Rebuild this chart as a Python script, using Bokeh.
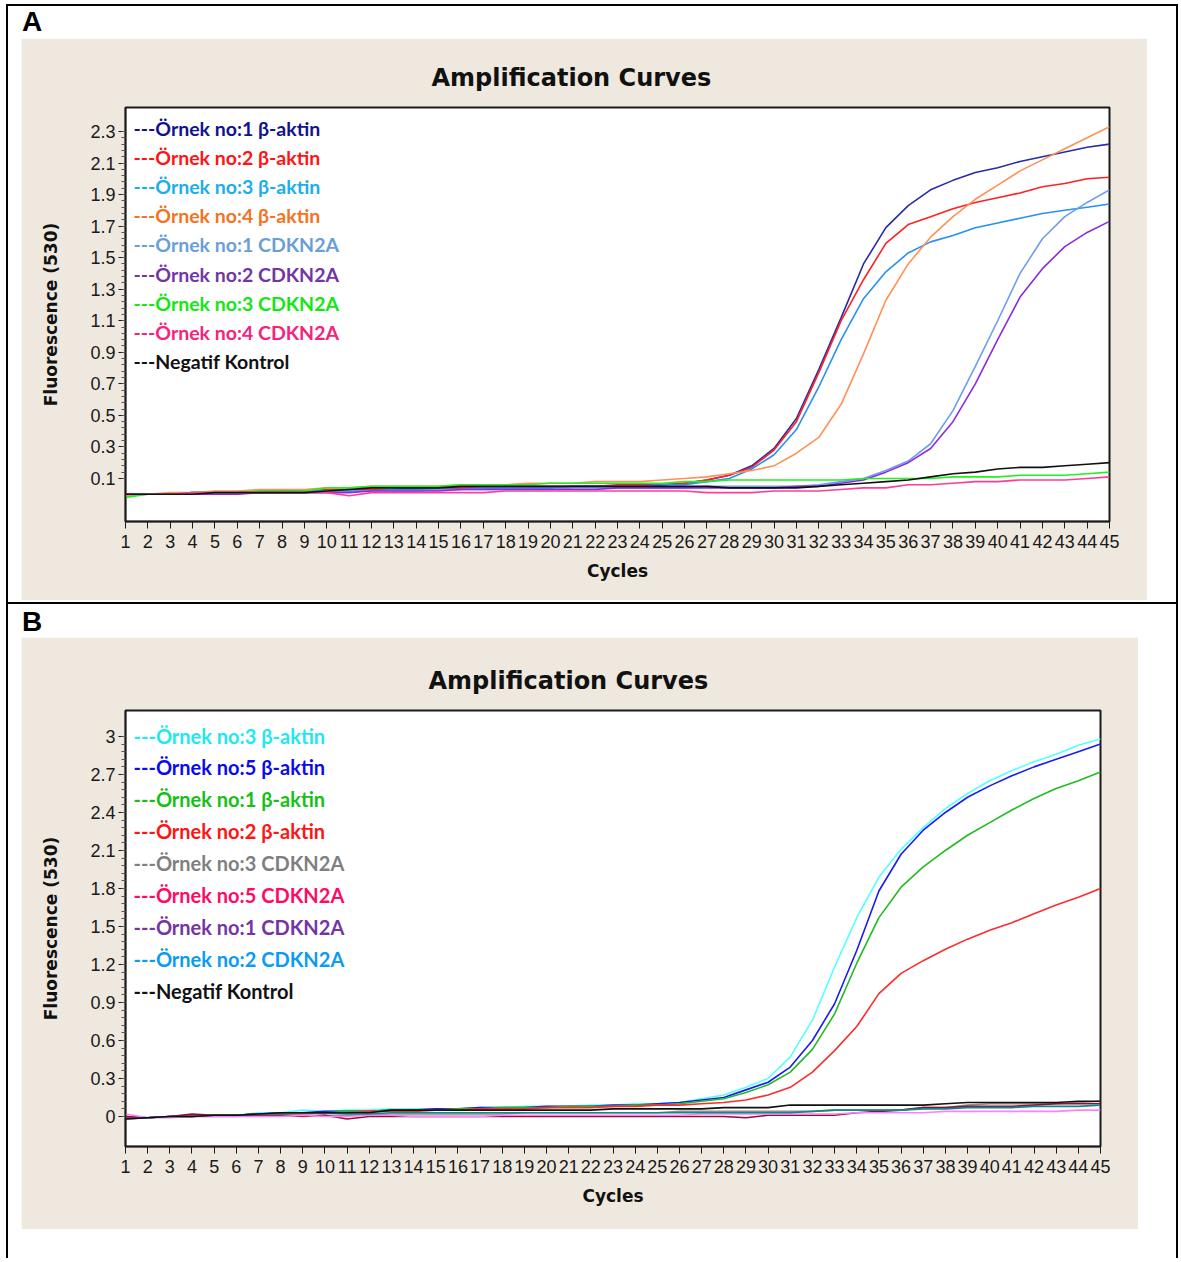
from bokeh.plotting import figure
from bokeh.models import Range1d, FixedTicker, Label, Spacer, Div
from bokeh.layouts import column, row
from bokeh.embed import file_html
from bokeh.resources import INLINE

# ------------------------------------------------------------------ data
cycles = list(range(1, 46))

# ---- Panel A
a_labels = ["---Örnek no:1 β-aktin", "---Örnek no:2 β-aktin", "---Örnek no:3 β-aktin",
            "---Örnek no:4 β-aktin", "---Örnek no:1 CDKN2A", "---Örnek no:2 CDKN2A",
            "---Örnek no:3 CDKN2A", "---Örnek no:4 CDKN2A", "---Negatif Kontrol"]
a_text_colors = ["#12128E", "#FF1414", "#1AAEEB", "#F5731E", "#6A9FD6", "#7335A5",
                 "#12E812", "#F5237B", "#111111"]
a_line_colors = ["#2A2AA6", "#FF2020", "#2590F5", "#FF9058", "#6E9CF0", "#8A2BE2",
                 "#22F022", "#FF3C96", "#111111"]

a_ornek1_baktin = [0.00, 0.00, 0.00, 0.01, 0.01, 0.01, 0.01, 0.02, 0.02, 0.02, 0.02, 0.03, 0.03, 0.03, 0.03,
                   0.04, 0.04, 0.04, 0.04, 0.04, 0.05, 0.05, 0.05, 0.05, 0.06, 0.07, 0.09, 0.12, 0.18, 0.29,
                   0.48, 0.79, 1.12, 1.46, 1.69, 1.83, 1.93, 1.99, 2.04, 2.07, 2.11, 2.14, 2.17, 2.20, 2.22]
a_ornek2_baktin = [0.00, 0.00, 0.00, 0.01, 0.01, 0.01, 0.02, 0.02, 0.02, 0.03, 0.03, 0.03, 0.03, 0.04, 0.04,
                   0.04, 0.04, 0.05, 0.05, 0.05, 0.05, 0.05, 0.06, 0.06, 0.06, 0.07, 0.09, 0.12, 0.17, 0.28,
                   0.46, 0.77, 1.10, 1.36, 1.59, 1.71, 1.76, 1.81, 1.85, 1.88, 1.91, 1.95, 1.97, 2.00, 2.01]
a_ornek3_baktin = [0.00, 0.00, 0.00, 0.00, 0.01, 0.01, 0.01, 0.01, 0.02, 0.02, 0.02, 0.02, 0.03, 0.03, 0.03,
                   0.03, 0.04, 0.04, 0.04, 0.04, 0.05, 0.05, 0.05, 0.05, 0.06, 0.06, 0.08, 0.10, 0.16, 0.25,
                   0.41, 0.68, 0.98, 1.24, 1.41, 1.53, 1.60, 1.64, 1.69, 1.72, 1.75, 1.78, 1.80, 1.82, 1.84]
a_ornek4_baktin = [-0.01, 0.00, 0.01, 0.01, 0.02, 0.02, 0.03, 0.03, 0.03, 0.04, 0.04, 0.05, 0.05, 0.05, 0.05,
                   0.06, 0.06, 0.06, 0.07, 0.07, 0.07, 0.08, 0.08, 0.08, 0.09, 0.10, 0.11, 0.13, 0.15, 0.18,
                   0.26, 0.36, 0.57, 0.89, 1.23, 1.46, 1.63, 1.76, 1.87, 1.96, 2.05, 2.12, 2.19, 2.26, 2.33]
a_ornek1_cdkn2a = [0.00, 0.00, 0.00, 0.00, 0.01, 0.01, 0.01, 0.01, 0.01, 0.02, 0.02, 0.02, 0.02, 0.02, 0.03,
                   0.03, 0.03, 0.03, 0.03, 0.03, 0.04, 0.04, 0.04, 0.04, 0.04, 0.04, 0.05, 0.05, 0.05, 0.05,
                   0.05, 0.06, 0.08, 0.10, 0.15, 0.21, 0.32, 0.53, 0.81, 1.10, 1.40, 1.62, 1.76, 1.85, 1.93]
a_ornek2_cdkn2a = [0.00, 0.00, 0.00, 0.00, 0.00, 0.00, 0.01, 0.01, 0.01, 0.01, 0.01, 0.02, 0.02, 0.02, 0.02,
                   0.03, 0.03, 0.03, 0.03, 0.03, 0.03, 0.03, 0.04, 0.04, 0.04, 0.04, 0.04, 0.04, 0.04, 0.04,
                   0.05, 0.05, 0.07, 0.09, 0.14, 0.20, 0.29, 0.46, 0.70, 0.98, 1.25, 1.43, 1.57, 1.66, 1.73]
a_ornek3_cdkn2a = [-0.02, 0.00, 0.00, 0.01, 0.01, 0.01, 0.02, 0.02, 0.02, 0.04, 0.04, 0.05, 0.05, 0.05, 0.05,
                   0.06, 0.06, 0.06, 0.06, 0.07, 0.07, 0.07, 0.07, 0.07, 0.07, 0.08, 0.08, 0.09, 0.09, 0.09,
                   0.09, 0.09, 0.09, 0.10, 0.10, 0.10, 0.10, 0.11, 0.11, 0.11, 0.12, 0.12, 0.12, 0.13, 0.14]
a_ornek4_cdkn2a = [0.00, 0.00, 0.00, 0.01, 0.01, 0.01, 0.01, 0.01, 0.01, 0.01, -0.01, 0.01, 0.01, 0.01, 0.01,
                   0.01, 0.01, 0.02, 0.02, 0.02, 0.02, 0.02, 0.02, 0.02, 0.02, 0.02, 0.01, 0.01, 0.01, 0.02,
                   0.02, 0.02, 0.03, 0.04, 0.04, 0.06, 0.06, 0.07, 0.08, 0.08, 0.09, 0.09, 0.09, 0.10, 0.11]
a_negatif = [0.00, 0.00, 0.00, 0.00, 0.01, 0.01, 0.01, 0.01, 0.01, 0.02, 0.03, 0.04, 0.04, 0.04, 0.04,
             0.05, 0.05, 0.05, 0.05, 0.05, 0.05, 0.05, 0.05, 0.05, 0.05, 0.05, 0.05, 0.04, 0.04, 0.04,
             0.04, 0.05, 0.06, 0.07, 0.08, 0.09, 0.11, 0.13, 0.14, 0.16, 0.17, 0.17, 0.18, 0.19, 0.20]
a_series = [a_ornek1_baktin, a_ornek2_baktin, a_ornek3_baktin, a_ornek4_baktin, a_ornek1_cdkn2a,
            a_ornek2_cdkn2a, a_ornek3_cdkn2a, a_ornek4_cdkn2a, a_negatif]
a_y_ticks = [0.1, 0.3, 0.5, 0.7, 0.9, 1.1, 1.3, 1.5, 1.7, 1.9, 2.1, 2.3]
a_y_tick_labels = ["0.1", "0.3", "0.5", "0.7", "0.9", "1.1", "1.3", "1.5", "1.7", "1.9", "2.1", "2.3"]

# ---- Panel B
b_labels = ["---Örnek no:3 β-aktin", "---Örnek no:5 β-aktin", "---Örnek no:1 β-aktin",
            "---Örnek no:2 β-aktin", "---Örnek no:3 CDKN2A", "---Örnek no:5 CDKN2A",
            "---Örnek no:1 CDKN2A", "---Örnek no:2 CDKN2A", "---Negatif Kontrol"]
b_text_colors = ["#1EE8F0", "#0A0AEE", "#16C016", "#FF1414", "#7F7F7F", "#FF0A64",
                 "#7335A5", "#0A9BF5", "#111111"]
b_line_colors = ["#55FFFF", "#1A1AF5", "#22BB22", "#FF2A2A", "#8C8C8C", "#9A0A32",
                 "#FF80FF", "#0A8C8C", "#111111"]

b_ornek3_baktin = [0.00, -0.01, 0.00, 0.00, 0.01, 0.01, 0.03, 0.03, 0.05, 0.04, 0.05, 0.05, 0.06, 0.06, 0.06,
                   0.06, 0.07, 0.07, 0.08, 0.08, 0.08, 0.09, 0.09, 0.10, 0.10, 0.11, 0.14, 0.17, 0.23, 0.30,
                   0.47, 0.76, 1.18, 1.57, 1.89, 2.11, 2.28, 2.43, 2.55, 2.65, 2.73, 2.80, 2.86, 2.93, 2.98]
b_ornek5_baktin = [-0.01, -0.01, 0.00, 0.00, 0.01, 0.01, 0.02, 0.03, 0.03, 0.04, 0.04, 0.04, 0.05, 0.05, 0.06,
                   0.06, 0.07, 0.07, 0.07, 0.08, 0.08, 0.08, 0.09, 0.09, 0.10, 0.11, 0.13, 0.15, 0.21, 0.27,
                   0.39, 0.60, 0.89, 1.31, 1.78, 2.07, 2.26, 2.40, 2.52, 2.61, 2.69, 2.76, 2.82, 2.88, 2.94]
b_ornek1_baktin = [0.00, -0.01, 0.00, 0.00, 0.01, 0.01, 0.02, 0.02, 0.03, 0.03, 0.04, 0.04, 0.05, 0.05, 0.05,
                   0.06, 0.06, 0.07, 0.07, 0.07, 0.08, 0.08, 0.08, 0.09, 0.09, 0.10, 0.12, 0.14, 0.19, 0.25,
                   0.35, 0.53, 0.81, 1.21, 1.57, 1.81, 1.97, 2.10, 2.22, 2.32, 2.42, 2.51, 2.59, 2.65, 2.72]
b_ornek2_baktin = [-0.01, -0.01, 0.00, 0.01, 0.01, 0.01, 0.02, 0.02, 0.02, 0.03, 0.03, 0.04, 0.04, 0.04, 0.05,
                   0.05, 0.06, 0.06, 0.06, 0.07, 0.07, 0.07, 0.08, 0.08, 0.09, 0.09, 0.10, 0.11, 0.13, 0.17,
                   0.23, 0.35, 0.52, 0.71, 0.97, 1.13, 1.23, 1.32, 1.40, 1.47, 1.53, 1.60, 1.67, 1.73, 1.80]
b_ornek3_cdkn2a = [0.00, -0.01, 0.00, 0.00, 0.00, 0.00, 0.01, 0.01, 0.01, 0.01, 0.01, 0.01, 0.02, 0.02, 0.02,
                   0.02, 0.02, 0.02, 0.03, 0.03, 0.03, 0.03, 0.03, 0.03, 0.03, 0.04, 0.04, 0.04, 0.04, 0.04,
                   0.04, 0.04, 0.05, 0.05, 0.05, 0.05, 0.07, 0.07, 0.09, 0.10, 0.10, 0.10, 0.10, 0.11, 0.12]
b_ornek5_cdkn2a = [0.00, -0.01, 0.00, 0.02, 0.01, 0.01, 0.01, 0.01, 0.00, 0.01, -0.02, 0.00, 0.00, 0.00, 0.00,
                   0.00, 0.00, 0.00, 0.00, 0.00, 0.00, 0.00, 0.00, 0.00, 0.00, 0.00, 0.00, 0.00, -0.01, 0.01,
                   0.01, 0.01, 0.01, 0.03, 0.04, 0.05, 0.07, 0.07, 0.08, 0.08, 0.08, 0.09, 0.10, 0.10, 0.10]
b_ornek1_cdkn2a = [0.02, -0.01, -0.01, 0.00, 0.00, 0.00, 0.00, 0.00, 0.01, 0.00, 0.00, 0.01, 0.01, 0.00, 0.00,
                   0.00, 0.00, 0.01, 0.01, 0.01, 0.01, 0.01, 0.01, 0.01, 0.01, 0.01, 0.02, 0.02, 0.02, 0.02,
                   0.02, 0.02, 0.02, 0.03, 0.03, 0.03, 0.03, 0.04, 0.04, 0.04, 0.04, 0.04, 0.04, 0.05, 0.05]
b_ornek2_cdkn2a = [-0.02, -0.01, 0.00, 0.00, 0.01, 0.01, 0.02, 0.02, 0.03, 0.03, 0.02, 0.02, 0.03, 0.03, 0.03,
                   0.03, 0.03, 0.03, 0.03, 0.03, 0.03, 0.03, 0.03, 0.03, 0.03, 0.03, 0.03, 0.03, 0.03, 0.03,
                   0.03, 0.04, 0.05, 0.05, 0.05, 0.05, 0.06, 0.06, 0.07, 0.07, 0.07, 0.08, 0.08, 0.08, 0.09]
b_negatif = [-0.02, -0.01, 0.00, 0.00, 0.01, 0.01, 0.02, 0.03, 0.03, 0.03, 0.03, 0.03, 0.05, 0.05, 0.05,
             0.05, 0.05, 0.05, 0.05, 0.05, 0.05, 0.05, 0.06, 0.06, 0.06, 0.06, 0.06, 0.07, 0.07, 0.07,
             0.09, 0.09, 0.09, 0.09, 0.09, 0.09, 0.09, 0.10, 0.11, 0.11, 0.11, 0.11, 0.11, 0.12, 0.12]
b_series = [b_ornek3_baktin, b_ornek5_baktin, b_ornek1_baktin, b_ornek2_baktin, b_ornek3_cdkn2a,
            b_ornek5_cdkn2a, b_ornek1_cdkn2a, b_ornek2_cdkn2a, b_negatif]
b_y_ticks = [0, 0.3, 0.6, 0.9, 1.2, 1.5, 1.8, 2.1, 2.4, 2.7, 3]
b_y_tick_labels = ["0", "0.3", "0.6", "0.9", "1.2", "1.5", "1.8", "2.1", "2.4", "2.7", "3"]

# ------------------------------------------------------------------ style
BEIGE = "#EEE8DF"
INK = "#1A1A1A"
TICK_FONT = "Liberation Sans, Arial"
HEAVY_FONT = "DejaVu Sans"
LEGEND_FONT = "Lato"


def make_panel(labels, text_colors, line_colors, series, y_start, y_end, y_ticks, y_tick_labels,
               minor_step, frame_w, frame_h, borders, title_offset, legend_top, legend_step,
               legend_size):
    left, right, top, bottom = borders
    p = figure(frame_width=frame_w, frame_height=frame_h,
               x_range=Range1d(1, 45), y_range=Range1d(y_start, y_end),
               output_backend="svg", toolbar_location=None,
               min_border_left=left, min_border_right=right,
               min_border_top=top, min_border_bottom=bottom)
    p.border_fill_color = BEIGE
    p.background_fill_color = "white"
    p.outline_line_color = INK
    p.outline_line_width = 2
    p.grid.visible = False

    p.title.text = "Amplification Curves"
    p.title.align = "left"
    p.title.offset = title_offset
    p.title.text_font = HEAVY_FONT
    p.title.text_font_style = "bold"
    p.title.text_font_size = "24px"
    p.title.text_color = "#111111"
    p.title.standoff = 32

    # x axis
    xa = p.xaxis[0]
    xa.ticker = FixedTicker(ticks=cycles, minor_ticks=[])
    xa.axis_label = "Cycles"
    xa.axis_label_text_font = HEAVY_FONT
    xa.axis_label_text_font_style = "bold"
    xa.axis_label_text_font_size = "17px"
    xa.axis_label_text_color = "#111111"
    xa.axis_label_standoff = 10
    xa.major_label_text_font = TICK_FONT
    xa.major_label_text_font_size = "18px"
    xa.major_label_text_color = INK
    xa.major_label_standoff = 6
    xa.major_tick_out = 7
    xa.major_tick_in = 0
    xa.axis_line_color = INK
    xa.axis_line_width = 1.5
    xa.major_tick_line_color = INK

    # y axis
    ya = p.yaxis[0]
    minors = []
    lo = y_ticks[0]
    k = 0
    while lo + k * minor_step <= y_ticks[-1] + 1e-9:
        minors.append(round(lo + k * minor_step, 4))
        k += 1
    ya.ticker = FixedTicker(ticks=y_ticks, minor_ticks=minors)
    ya.major_label_overrides = {t: s for t, s in zip(y_ticks, y_tick_labels)}
    ya.axis_label = "Fluorescence (530)"
    ya.axis_label_text_font = HEAVY_FONT
    ya.axis_label_text_font_style = "bold"
    ya.axis_label_text_font_size = "17px"
    ya.axis_label_text_color = "#111111"
    ya.axis_label_standoff = 26
    ya.major_label_text_font = TICK_FONT
    ya.major_label_text_font_size = "18px"
    ya.major_label_text_color = INK
    ya.major_label_standoff = 3
    ya.major_tick_out = 7
    ya.major_tick_in = 0
    ya.minor_tick_out = 4
    ya.minor_tick_in = 0
    ya.axis_line_color = INK
    ya.axis_line_width = 1.5
    ya.major_tick_line_color = INK
    ya.minor_tick_line_color = "#555555"

    for vals, col in zip(series, line_colors):
        p.line(cycles, vals, line_color=col, line_width=1.6)

    ppu = frame_h / (y_end - y_start)
    ppx = frame_w / 44.0
    for i, (lab, col) in enumerate(zip(labels, text_colors)):
        yy = y_end - (legend_top + i * legend_step) / ppu
        p.add_layout(Label(x=1 + 8 / ppx, y=yy, text=lab, text_color=col,
                           text_font=LEGEND_FONT, text_font_style="bold",
                           text_font_size=legend_size, text_baseline="middle",
                           text_align="left"))
    return p


figA = make_panel(a_labels, a_text_colors, a_line_colors, a_series, -0.173, 2.452,
                  a_y_ticks, a_y_tick_labels, 0.04, 984, 414, (104, 38, 69, 79),
                  306, 21, 29.1, "19.5px")
figB = make_panel(b_labels, b_text_colors, b_line_colors, b_series, -0.237, 3.205,
                  b_y_ticks, b_y_tick_labels, 0.06, 975, 436, (104, 38, 73, 83),
                  303, 25, 31.9, "20px")


def black(w, h):
    return Spacer(width=w, height=h, styles={"background-color": "black"})


def letter(t):
    return Div(text=t, width=40, height=28, margin=0,
               styles={"font-family": "Liberation Sans, Arial", "font-size": "28px",
                       "font-weight": "bold", "line-height": "28px", "color": "black"})


INNER_W = 1168
inner = column(
    row(Spacer(width=14, height=32), column(Spacer(width=40, height=2), letter("A"))),
    row(Spacer(width=13, height=562), figA, Spacer(width=29, height=562)),
    Spacer(width=INNER_W, height=2),
    black(INNER_W, 2),
    row(Spacer(width=14, height=33), column(Spacer(width=40, height=4), letter("B"))),
    row(Spacer(width=13, height=592), figB, Spacer(width=38, height=592)),
    Spacer(width=INNER_W, height=29),
)
INNER_H = 32 + 562 + 2 + 2 + 33 + 592 + 29

framed = column(
    black(INNER_W + 4, 2),
    row(black(2, INNER_H), inner, black(2, INNER_H)),
)

page = column(
    Spacer(width=1178, height=4),
    row(Spacer(width=6, height=INNER_H + 2), framed),
)

open("out.html", "w").write(file_html(page, INLINE))
